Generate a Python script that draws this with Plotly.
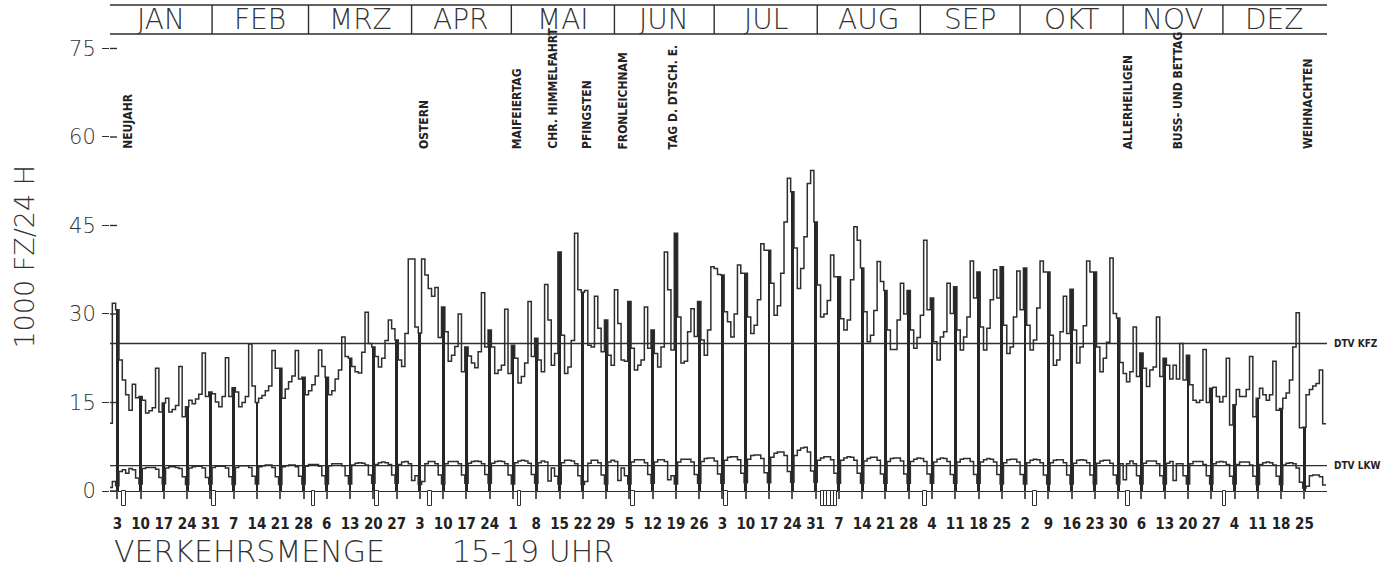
import datetime as dt
import plotly.graph_objects as go

# Verkehrsmenge 1988, 1000 Fz/24 h, one value per day
kfz_jan = [11.5, 31.8, 30.7,
           22.2, 18.8, 16.3, 13.7, 18.1, 15.8, 16.0,
           15.4, 13.2, 13.6, 14.1, 20.8, 13.4, 14.9,
           15.7, 13.4, 13.8, 14.5, 21.1, 12.6, 14.3,
           15.4, 14.8, 15.6, 16.4, 23.4, 16.0, 16.8]
kfz_feb = [16.5, 15.1, 14.3, 16.0, 22.6, 16.0, 17.5,
           16.8, 14.3, 15.0, 16.0, 24.9, 17.8, 15.0,
           15.7, 16.2, 17.0, 17.8, 23.8, 20.8, 20.8,
           15.7, 17.3, 18.5, 19.5, 23.8, 19.0, 19.3,
           16.3]
kfz_mar = [17.0, 18.0, 19.5, 23.9, 21.1, 19.3,
           16.3, 17.0, 19.0, 20.5, 26.1, 22.8, 22.5,
           21.1, 20.2, 20.0, 23.5, 30.3, 25.0, 24.4,
           22.8, 21.0, 22.5, 25.5, 29.0, 27.5, 25.6,
           22.2, 21.1, 26.7, 39.3]
kfz_apr = [39.3, 27.8, 26.8,
           39.3, 36.6, 34.3, 33.0, 34.5, 26.0, 31.2,
           27.0, 22.0, 23.0, 24.5, 30.0, 20.2, 24.4,
           22.9, 21.7, 20.9, 23.6, 33.6, 24.4, 27.3,
           24.4, 19.9, 20.5, 21.3, 30.8, 19.9]
kfz_may = [24.7,
           22.5, 18.3, 19.4, 21.7, 32.1, 22.8, 25.9,
           22.2, 20.2, 35.0, 29.0, 21.3, 23.3, 40.5,
           26.4, 19.9, 21.0, 25.5, 43.7, 34.1, 33.7,
           34.0, 24.7, 24.4, 33.0, 27.6, 23.6, 29.0,
           23.0, 21.3]
kfz_jun = [34.1, 28.4, 22.2, 22.0, 32.1,
           24.2, 20.5, 21.3, 22.2, 31.2, 24.2, 27.3,
           23.3, 21.0, 24.4, 40.5, 34.1, 23.9, 43.7,
           29.5, 21.7, 22.0, 27.0, 30.9, 26.2, 32.1,
           25.6, 23.0, 27.3, 38.0]
kfz_jul = [37.7, 36.7, 36.6,
           30.4, 28.7, 26.1, 30.0, 38.3, 36.9, 36.9,
           29.5, 26.7, 28.1, 32.4, 41.9, 40.8, 40.8,
           35.2, 29.8, 31.4, 36.9, 45.6, 53.0, 50.7,
           41.2, 34.3, 37.7, 43.1, 52.1, 54.3, 45.6]
kfz_aug = [34.9, 29.5, 30.0, 32.3, 40.0, 36.3, 36.3,
           29.2, 27.3, 29.0, 35.8, 44.8, 42.5, 37.8,
           30.4, 25.3, 26.4, 30.6, 38.9, 35.5, 34.0,
           27.3, 24.0, 24.0, 29.0, 35.2, 30.0, 34.0,
           27.3, 24.2, 26.0]
kfz_sep = [29.8, 42.5, 30.7, 32.7,
           25.3, 22.2, 26.1, 27.0, 35.2, 30.1, 34.6,
           27.3, 23.9, 26.1, 29.5, 39.0, 32.7, 37.1,
           27.8, 23.9, 27.6, 32.4, 37.5, 32.7, 38.0,
           28.1, 23.3, 24.4, 29.5, 37.3]
kfz_oct = [30.7, 37.8,
           28.1, 23.9, 25.6, 31.0, 39.0, 37.1, 37.1,
           26.4, 21.3, 22.2, 27.0, 33.0, 26.7, 34.2,
           27.3, 21.7, 24.4, 28.0, 39.0, 37.1, 37.1,
           24.4, 20.2, 22.5, 25.2, 39.5, 30.1, 29.3,
           21.8]
kfz_nov = [19.9, 18.5, 20.2, 27.8, 19.4, 23.4,
           20.8, 17.7, 20.5, 21.0, 29.5, 19.4, 22.5,
           21.3, 19.0, 21.3, 19.0, 25.0, 18.8, 23.0,
           18.0, 15.4, 15.0, 15.4, 24.0, 15.0, 17.4,
           17.6, 16.0, 15.1]
kfz_dec = [16.0, 22.5, 11.2, 14.6,
           17.2, 16.0, 16.0, 17.2, 22.8, 12.6, 15.7,
           17.4, 16.3, 15.4, 16.3, 22.0, 13.7, 14.0,
           15.7, 16.6, 18.8, 24.4, 30.2, 10.7, 10.8,
           16.3, 17.2, 17.8, 18.2, 20.5, 11.4]

lkw_jan = [0.6, 1.6, 0.9,
           3.3, 3.6, 3.0, 3.8, 3.6, 2.2, 1.2,
           3.8, 4.0, 4.0, 4.0, 3.7, 2.3, 1.2,
           3.9, 4.1, 4.1, 4.0, 3.8, 2.4, 1.1,
           3.9, 4.1, 4.2, 4.2, 3.9, 2.3, 1.2]
lkw_feb = [4.0, 4.2, 4.2, 4.2, 3.9, 2.4, 1.1,
           4.0, 4.3, 4.3, 4.3, 4.0, 2.5, 1.2,
           4.1, 4.3, 4.4, 4.4, 4.0, 2.4, 1.1,
           4.1, 4.3, 4.4, 4.4, 4.1, 2.5, 1.2,
           4.2]
lkw_mar = [4.5, 4.5, 4.5, 4.2, 2.6, 1.2,
           4.3, 4.6, 4.6, 4.6, 4.3, 2.6, 1.2,
           4.4, 4.7, 4.8, 4.7, 4.4, 2.7, 1.3,
           4.5, 4.8, 4.9, 4.8, 4.5, 2.7, 1.3,
           4.5, 4.9, 5.0, 4.6]
lkw_apr = [1.8, 2.6, 1.1,
           1.6, 4.6, 5.0, 5.0, 4.6, 2.7, 1.2,
           4.6, 5.0, 5.0, 5.0, 4.6, 2.7, 1.3,
           4.7, 5.0, 5.1, 5.0, 4.6, 2.8, 1.3,
           4.7, 5.0, 5.1, 5.0, 4.6, 2.7]
lkw_may = [1.2,
           4.8, 5.1, 5.2, 5.1, 4.7, 2.8, 1.3,
           4.8, 5.1, 4.9, 1.7, 3.9, 2.5, 1.2,
           4.8, 5.2, 5.2, 5.1, 4.6, 2.6, 1.1,
           1.6, 4.7, 5.2, 5.2, 4.8, 2.7, 1.2,
           4.9, 5.2]
lkw_jun = [5.0, 1.8, 3.9, 2.6, 1.2,
           4.9, 5.3, 5.3, 5.3, 4.8, 2.8, 1.3,
           4.9, 5.3, 5.3, 5.0, 1.9, 2.6, 1.2,
           4.9, 5.4, 5.4, 5.4, 4.9, 2.8, 1.3,
           5.0, 5.5, 5.6, 5.6]
lkw_jul = [5.1, 2.9, 1.3,
           5.2, 5.7, 5.8, 5.8, 5.3, 3.0, 1.4,
           5.4, 6.0, 6.1, 6.1, 5.5, 3.1, 1.4,
           5.7, 6.4, 6.6, 6.6, 6.0, 3.3, 1.5,
           6.0, 6.9, 7.3, 7.4, 6.6, 3.4, 1.5]
lkw_aug = [5.2, 5.6, 5.8, 5.8, 5.3, 3.0, 1.3,
           5.2, 5.6, 5.8, 5.7, 5.2, 3.0, 1.3,
           5.1, 5.5, 5.7, 5.7, 5.2, 2.9, 1.3,
           5.0, 5.5, 5.6, 5.6, 5.1, 2.9, 1.3,
           5.0, 5.4, 5.6]
lkw_sep = [5.5, 5.0, 2.9, 1.3,
           4.9, 5.4, 5.6, 5.5, 5.0, 2.8, 1.3,
           4.9, 5.4, 5.5, 5.5, 5.0, 2.8, 1.3,
           4.9, 5.3, 5.5, 5.4, 4.9, 2.8, 1.2,
           4.8, 5.3, 5.4, 5.4, 4.9]
lkw_oct = [2.8, 1.2,
           4.8, 5.2, 5.4, 5.3, 4.8, 2.7, 1.2,
           4.8, 5.2, 5.3, 5.3, 4.8, 2.7, 1.2,
           4.7, 5.2, 5.3, 5.2, 4.8, 2.7, 1.2,
           4.7, 5.1, 5.2, 5.2, 4.7, 2.7, 1.2,
           4.6]
lkw_nov = [1.9, 4.6, 5.1, 4.6, 2.6, 1.2,
           4.7, 5.1, 5.1, 5.1, 4.6, 2.6, 1.2,
           4.7, 5.0, 1.8, 4.6, 4.6, 2.6, 1.2,
           4.6, 5.0, 5.0, 5.0, 4.5, 2.6, 1.2,
           4.6, 4.9, 5.0]
lkw_dec = [4.9, 4.5, 2.5, 1.2,
           4.5, 4.9, 4.9, 4.9, 4.4, 2.5, 1.1,
           4.5, 4.8, 4.9, 4.8, 4.4, 2.5, 1.1,
           4.4, 4.7, 4.8, 4.6, 3.9, 1.5, 0.5,
           0.8, 2.6, 2.7, 2.7, 2.4, 1.0]

DTV_KFZ = 25.0
DTV_LKW = 4.3

months = ["JAN", "FEB", "MRZ", "APR", "MAI", "JUN",
          "JUL", "AUG", "SEP", "OKT", "NOV", "DEZ"]

holiday_dates = ["1988-01-01", "1988-04-03", "1988-05-01", "1988-05-12", "1988-05-22",
                 "1988-06-02", "1988-06-17", "1988-11-01", "1988-11-16", "1988-12-25"]
holiday_names = ["NEUJAHR", "OSTERN", "MAIFEIERTAG", "CHR. HIMMELFAHRT", "PFINGSTEN",
                 "FRONLEICHNAM", "TAG D. DTSCH. E.", "ALLERHEILIGEN", "BUSS- UND BETTAG",
                 "WEIHNACHTEN"]

# small boxes hanging below the zero line
mark_dates = ["1988-01-05", "1988-02-01", "1988-03-02", "1988-03-21", "1988-04-06",
              "1988-05-03", "1988-06-06", "1988-07-04", "1988-09-02", "1988-10-05",
              "1988-11-02", "1988-12-01"]
hatch_dates = ["1988-08-02", "1988-08-03", "1988-08-04", "1988-08-05", "1988-08-06"]

kfz_months = [kfz_jan, kfz_feb, kfz_mar, kfz_apr, kfz_may, kfz_jun,
              kfz_jul, kfz_aug, kfz_sep, kfz_oct, kfz_nov, kfz_dec]
lkw_months = [lkw_jan, lkw_feb, lkw_mar, lkw_apr, lkw_may, lkw_jun,
              lkw_jul, lkw_aug, lkw_sep, lkw_oct, lkw_nov, lkw_dec]
kfz = sum(kfz_months, [])
lkw = sum(lkw_months, [])

start = dt.date(1988, 1, 1)
dates = [start + dt.timedelta(days=i) for i in range(len(kfz))]
day_no = list(range(1, len(kfz) + 1))


def doy(s):
    return (dt.date.fromisoformat(s) - start).days + 1


sundays = [n for n, d in zip(day_no, dates) if d.weekday() == 6]
sunday_text = [str(dates[n - 1].day) for n in sundays]

X0, X1 = 0.8, 366.8
Y0, Y1 = -3.22, 82.37
HEAD = 77.46
INK = "#2e2e2e"


def py(v):
    return (v - Y0) / (Y1 - Y0)


step_x = [n - 0.5 for n in day_no] + [day_no[-1] + 0.5]

fig = go.Figure()
fig.add_trace(go.Bar(x=sundays, y=[kfz[n - 1] for n in sundays], width=0.85,
                     marker=dict(color="#262626", line_width=0)))
fig.add_trace(go.Scatter(x=step_x, y=kfz + [kfz[-1]], mode="lines",
                         line=dict(shape="hv", color=INK, width=1.5)))
fig.add_trace(go.Scatter(x=step_x, y=lkw + [lkw[-1]], mode="lines",
                         line=dict(shape="hv", color=INK, width=1.5)))
fig.add_trace(go.Bar(x=sundays, y=[-1.3] * len(sundays), width=0.3,
                     marker=dict(color="#555555", line_width=0)))
fig.add_trace(go.Bar(x=[doy(s) for s in mark_dates], y=[-2.5] * len(mark_dates), width=1.1,
                     marker=dict(color="white", line=dict(color=INK, width=1))))
fig.add_trace(go.Bar(x=[doy(s) for s in hatch_dates], y=[-2.5] * len(hatch_dates), width=1.0,
                     marker=dict(color="white", line=dict(color=INK, width=1))))

fig.add_hline(y=DTV_KFZ, line=dict(color=INK, width=1.3))
fig.add_hline(y=DTV_LKW, line=dict(color=INK, width=1.3))

thin = dict(family="DejaVu Sans ExtraLight, DejaVu Sans", weight=200, color="#333")
narrow = dict(family="Liberation Sans Narrow, DejaVu Sans Condensed, Arial Narrow, sans-serif",
              weight="bold", color="#222")

shapes = []
line = dict(color=INK, width=1.4)
shapes.append(dict(type="line", xref="paper", yref="paper", x0=0, x1=0, y0=py(0), y1=1, line=line))
shapes.append(dict(type="line", xref="paper", yref="paper", x0=1, x1=1, y0=py(0), y1=1, line=line))
shapes.append(dict(type="line", xref="paper", yref="paper", x0=0, x1=1, y0=1, y1=1, line=line))
shapes.append(dict(type="line", xref="paper", yref="paper", x0=0, x1=1, y0=py(HEAD), y1=py(HEAD), line=line))
for v in [0, 15, 30, 45, 60, 75]:
    shapes.append(dict(type="line", xref="paper", yref="y", x0=0, x1=7 / 1217, y0=v, y1=v, line=line))

annotations = []
edge = 0.5
for name, m in zip(months, kfz_months):
    if edge > 0.5:
        shapes.append(dict(type="line", xref="x", yref="paper", x0=edge, x1=edge,
                           y0=py(HEAD), y1=1, line=line))
    annotations.append(dict(x=edge + len(m) / 2, y=py((HEAD + Y1) / 2), xref="x", yref="paper",
                            text=name, showarrow=False, yanchor="middle",
                            font=dict(size=28, **thin)))
    edge += len(m)

label_shift = {"NEUJAHR": 17}
for d, name in zip(holiday_dates, holiday_names):
    annotations.append(dict(x=doy(d), y=57.6, xref="x", yref="y", text=name, textangle=-90,
                            yanchor="bottom", xanchor="center", showarrow=False,
                            xshift=label_shift.get(name, 3.5), font=dict(size=12, **narrow)))

annotations.append(dict(x=1.004, y=DTV_KFZ, xref="paper", yref="y", text="DTV KFZ",
                        xanchor="left", showarrow=False, font=dict(size=10, **narrow)))
annotations.append(dict(x=1.004, y=DTV_LKW, xref="paper", yref="y", text="DTV LKW",
                        xanchor="left", showarrow=False, font=dict(size=10, **narrow)))
annotations.append(dict(x=-0.07, y=39.7, xref="paper", yref="y", text="1000 FZ/24 H",
                        textangle=-90, xanchor="center", yanchor="middle", showarrow=False,
                        font=dict(size=27, **thin)))
annotations.append(dict(x=0.0015, y=-0.083, xref="paper", yref="paper", text="VERKEHRSMENGE",
                        xanchor="left", yanchor="middle", showarrow=False, font=dict(size=30, **thin)))
annotations.append(dict(x=(450 - 110) / 1217, y=-0.083, xref="paper", yref="paper", text="15-19 UHR",
                        xanchor="left", yanchor="middle", showarrow=False, font=dict(size=30, **thin)))

fig.update_layout(
    width=1387, height=568,
    margin=dict(l=110, r=60, t=5, b=58, autoexpand=False),
    paper_bgcolor="white", plot_bgcolor="white",
    showlegend=False, barmode="overlay", bargap=0,
    shapes=shapes, annotations=annotations,
    xaxis=dict(range=[X0, X1], tickvals=sundays, ticktext=sunday_text, ticks="",
               tickangle=0, automargin=False,
               showgrid=False, zeroline=False, showline=False,
               tickfont=dict(size=15, **narrow), ticklabelstandoff=3),
    yaxis=dict(range=[Y0, Y1], tickvals=[0, 15, 30, 45, 60, 75], ticks="outside",
               ticklen=7, tickwidth=1.4, tickcolor=INK, showgrid=False, automargin=False,
               zeroline=True, zerolinecolor=INK, zerolinewidth=1.4, showline=False,
               tickfont=dict(size=21, **thin), ticklabelstandoff=2),
)

fig.write_html("out.html", config={"displayModeBar": False},
               post_script="document.body.style.margin='0';")
